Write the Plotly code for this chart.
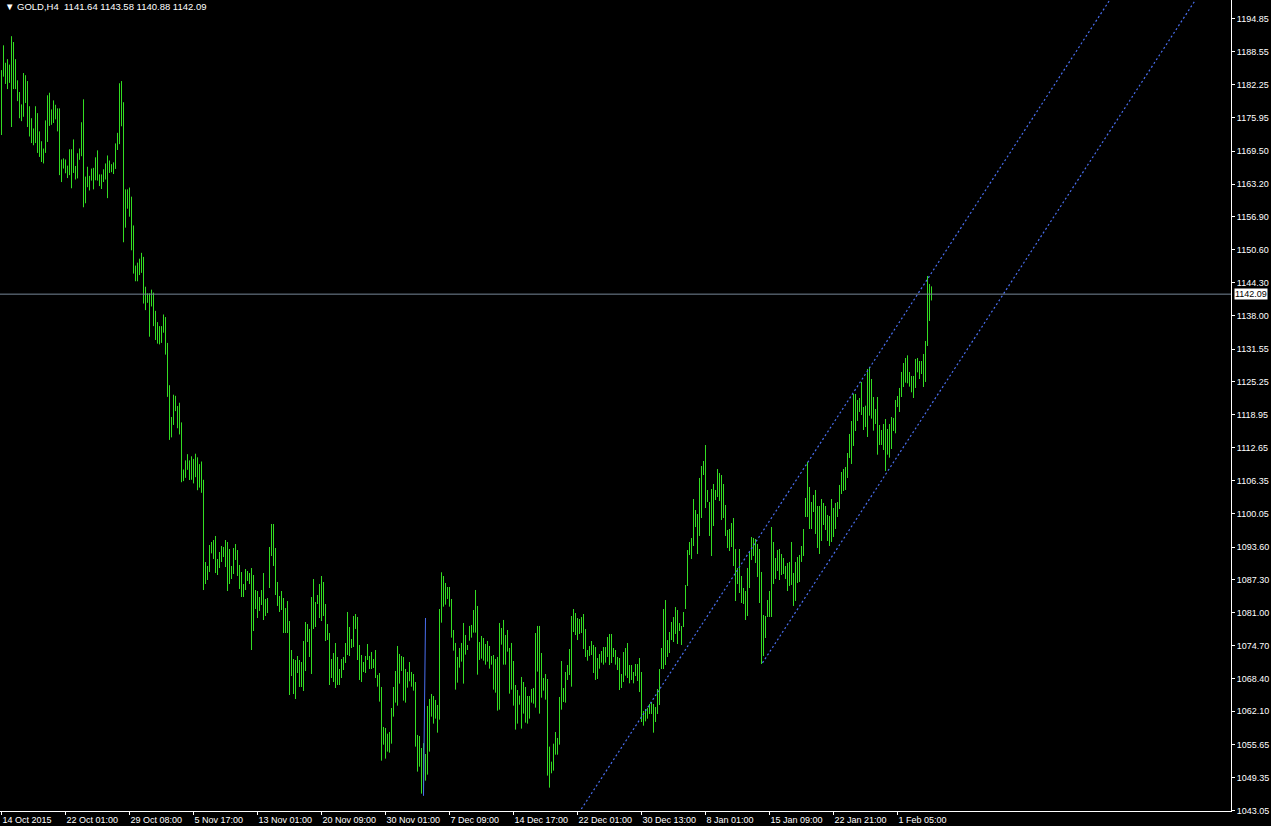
import plotly.graph_objects as go

# ---------------- data (GOLD, H4 bars: high / low per bar) ----------------
HIGH = [
    1185.05, 1189.80, 1186.45, 1187.15, 1186.10, 1191.55, 1190.43, 1187.15, 1183.09, 1180.85,
    1178.47, 1184.49, 1184.07, 1182.95, 1178.12, 1175.82, 1173.86, 1178.12, 1176.80, 1173.30,
    1171.41, 1170.01, 1175.40, 1180.22, 1180.71, 1177.50, 1179.24, 1178.40, 1177.71, 1177.71,
    1167.91, 1168.12, 1167.91, 1166.73, 1169.87, 1169.87, 1171.76, 1166.66, 1169.10, 1170.01,
    1175.05, 1179.45, 1164.63, 1166.52, 1164.77, 1166.17, 1166.31, 1168.33, 1169.66, 1165.05,
    1165.05, 1166.03, 1167.15, 1168.68, 1167.71, 1167.01, 1167.36, 1170.99, 1173.02, 1182.53,
    1182.95, 1178.89, 1162.18, 1162.18, 1162.53, 1160.78, 1155.26, 1147.57, 1148.13, 1148.89,
    1150.01, 1149.24, 1143.51, 1142.25, 1142.25, 1142.95, 1142.39, 1138.89, 1136.73, 1135.96,
    1135.96, 1138.19, 1137.70, 1132.74, 1124.63, 1118.54, 1122.81, 1122.60, 1120.64, 1121.27,
    1117.50, 1108.47, 1110.22, 1111.41, 1110.22, 1111.00, 1110.50, 1111.50, 1110.80, 1109.50,
    1110.00, 1106.50, 1090.73, 1089.97, 1093.99, 1094.57, 1094.95, 1095.72, 1091.31, 1092.65,
    1093.80, 1093.61, 1094.95, 1094.57, 1093.22, 1089.97, 1093.42, 1094.18, 1093.03, 1090.16,
    1088.81, 1086.51, 1089.39, 1089.01, 1088.62, 1089.58, 1088.24, 1085.36, 1085.17, 1084.02,
    1085.36, 1088.62, 1083.64, 1083.83, 1093.61, 1098.02, 1098.02, 1093.42, 1086.90, 1084.21,
    1085.17, 1083.83, 1081.91, 1083.25, 1079.42, 1073.86, 1072.13, 1071.94, 1072.71, 1071.94,
    1071.56, 1075.58, 1079.23, 1078.84, 1077.89, 1084.02, 1087.47, 1083.06, 1084.40, 1086.51,
    1088.05, 1086.90, 1082.68, 1078.84, 1077.12, 1072.13, 1073.28, 1075.20, 1072.52, 1070.22,
    1072.13, 1072.52, 1075.20, 1081.15, 1078.27, 1075.97, 1080.38, 1080.76, 1080.19, 1074.82,
    1072.90, 1071.56, 1072.71, 1075.01, 1072.71, 1073.48, 1072.13, 1073.86, 1069.07, 1069.45,
    1066.77, 1059.10, 1058.91, 1057.82, 1058.14, 1062.74, 1066.77, 1069.84, 1074.63, 1073.10,
    1072.71, 1072.52, 1070.22, 1069.65, 1071.56, 1069.65, 1069.26, 1067.73, 1057.57, 1057.37,
    1055.07, 1056.00, 1053.92, 1063.13, 1064.47, 1065.43, 1065.04, 1064.28, 1063.32, 1081.72,
    1088.76, 1088.05, 1086.71, 1085.94, 1085.94, 1083.64, 1077.70, 1075.21, 1072.52, 1074.25,
    1075.21, 1079.04, 1076.74, 1074.82, 1078.47, 1078.66, 1081.53, 1085.37, 1082.30, 1075.40,
    1076.55, 1076.16, 1075.01, 1075.59, 1074.63, 1072.71, 1072.90, 1072.14, 1072.52, 1079.04,
    1078.08, 1079.62, 1076.74, 1077.70, 1074.25, 1075.21, 1071.75, 1067.15, 1066.19, 1065.11,
    1068.69, 1067.73, 1066.77, 1065.04, 1065.04, 1066.39, 1066.58, 1077.12, 1078.47, 1078.47,
    1073.29, 1068.49, 1069.26, 1068.30, 1055.33, 1052.45, 1055.90, 1058.14, 1056.99, 1064.85,
    1071.75, 1066.57, 1069.64, 1070.98, 1074.05, 1080.38, 1081.72, 1080.95, 1079.99, 1079.80,
    1080.18, 1080.76, 1077.88, 1073.86, 1074.62, 1075.58, 1074.82, 1074.43, 1072.32, 1073.09,
    1073.67, 1074.43, 1074.43, 1076.35, 1076.93, 1076.93, 1074.24, 1073.86, 1072.52, 1072.32,
    1069.26, 1073.47, 1074.24, 1075.20, 1070.98, 1070.98, 1069.64, 1071.17, 1071.17, 1072.32,
    1069.64, 1062.16, 1062.54, 1062.74, 1063.50, 1063.89, 1063.50, 1062.93, 1066.38, 1070.21,
    1074.24, 1081.72, 1083.44, 1075.77, 1077.31, 1079.23, 1080.18, 1082.10, 1081.53, 1079.03,
    1078.46, 1081.14, 1086.32, 1093.03, 1094.57, 1095.33, 1102.81, 1100.70, 1099.93, 1106.84,
    1109.14, 1110.10, 1113.16, 1104.54, 1102.23, 1104.73, 1105.69, 1104.54, 1108.56, 1107.80,
    1107.41, 1105.69, 1101.66, 1096.87, 1097.06, 1098.21, 1099.17, 1093.22, 1089.58, 1093.22,
    1088.05, 1085.75, 1085.17, 1089.58, 1092.65, 1095.53, 1095.34, 1095.14, 1094.19, 1093.23,
    1088.82, 1080.57, 1080.38, 1083.45, 1085.17, 1097.45, 1094.57, 1091.50, 1093.04, 1093.23,
    1092.27, 1091.50, 1089.97, 1090.54, 1090.74, 1094.57, 1088.63, 1090.74, 1091.69, 1092.08,
    1093.80, 1097.06, 1103.01, 1109.91, 1105.12, 1102.24, 1103.58, 1104.54, 1101.47, 1101.47,
    1102.81, 1102.05, 1101.47, 1099.75, 1099.55, 1102.81, 1101.09, 1102.05, 1102.24, 1105.50,
    1107.99, 1108.57, 1108.95, 1111.63, 1115.28, 1117.77, 1122.95, 1122.95, 1121.80, 1122.18,
    1125.25, 1120.45, 1120.71, 1127.74, 1128.12, 1125.82, 1122.37, 1120.07, 1122.37, 1117.00,
    1116.04, 1117.19, 1118.15, 1116.24, 1117.19, 1118.54, 1118.35, 1121.80, 1122.56, 1124.10,
    1127.17, 1128.89, 1129.85, 1130.36, 1127.17, 1126.40, 1126.40, 1129.66, 1129.85, 1129.27,
    1129.27, 1130.62, 1133.11, 1145.57, 1144.04, 1143.58,
]

LOW = [
    1172.60, 1183.79, 1182.39, 1181.41, 1182.60, 1174.14, 1181.41, 1181.41, 1179.10, 1175.82,
    1175.26, 1176.10, 1178.75, 1174.14, 1172.32, 1171.06, 1170.64, 1171.06, 1169.17, 1168.40,
    1167.43, 1167.15, 1169.17, 1171.27, 1174.35, 1174.56, 1174.91, 1175.61, 1173.30, 1164.91,
    1163.58, 1166.17, 1165.26, 1164.35, 1164.91, 1162.39, 1165.33, 1164.07, 1164.28, 1167.85,
    1168.54, 1158.75, 1159.52, 1162.60, 1161.97, 1163.86, 1162.18, 1163.93, 1163.86, 1162.81,
    1162.25, 1163.58, 1164.07, 1160.50, 1165.33, 1165.47, 1165.12, 1166.10, 1169.73, 1170.85,
    1174.28, 1152.04, 1154.84, 1158.47, 1156.94, 1150.50, 1146.03, 1144.56, 1144.56, 1145.75,
    1146.17, 1140.29, 1139.03, 1140.43, 1133.93, 1139.73, 1135.96, 1133.30, 1132.60, 1132.46,
    1132.74, 1134.70, 1130.50, 1122.39, 1114.14, 1114.63, 1117.01, 1119.66, 1116.38, 1115.19,
    1106.03, 1106.24, 1106.87, 1108.40, 1106.45, 1106.50, 1105.80, 1107.00, 1104.50, 1105.00,
    1104.00, 1085.36, 1086.51, 1087.28, 1088.81, 1092.39, 1091.31, 1088.62, 1088.24, 1089.58,
    1090.73, 1091.69, 1089.77, 1085.17, 1086.51, 1087.47, 1088.43, 1091.12, 1088.05, 1085.56,
    1084.02, 1084.02, 1085.36, 1087.09, 1086.51, 1073.86, 1077.50, 1081.72, 1079.99, 1081.34,
    1082.49, 1079.61, 1080.38, 1080.95, 1085.75, 1091.88, 1089.97, 1084.40, 1082.30, 1081.15,
    1081.53, 1077.12, 1077.12, 1077.12, 1065.23, 1068.87, 1065.42, 1064.46, 1069.45, 1066.77,
    1066.77, 1066.00, 1069.83, 1075.39, 1072.52, 1069.26, 1077.89, 1078.27, 1082.68, 1079.99,
    1079.42, 1080.38, 1075.58, 1075.78, 1067.15, 1068.49, 1067.72, 1066.57, 1067.15, 1067.15,
    1068.49, 1070.02, 1071.37, 1072.90, 1072.71, 1074.24, 1074.43, 1077.89, 1071.94, 1068.11,
    1067.72, 1069.64, 1069.45, 1071.94, 1070.22, 1070.22, 1070.41, 1068.49, 1066.83, 1063.96,
    1052.64, 1055.71, 1053.03, 1054.37, 1054.18, 1055.90, 1061.08, 1063.77, 1063.19, 1067.41,
    1069.84, 1064.15, 1063.77, 1066.64, 1067.86, 1066.83, 1066.07, 1055.33, 1050.54, 1051.49,
    1046.32, 1046.50, 1048.81, 1049.96, 1054.37, 1061.08, 1059.74, 1060.70, 1058.01, 1060.51,
    1079.10, 1082.17, 1082.56, 1083.64, 1082.17, 1076.23, 1073.74, 1066.26, 1067.60, 1070.48,
    1071.63, 1067.41, 1072.97, 1073.86, 1075.65, 1076.23, 1077.19, 1077.19, 1069.13, 1071.95,
    1072.20, 1071.82, 1071.05, 1071.63, 1070.28, 1071.05, 1066.26, 1065.68, 1062.23, 1062.42,
    1074.89, 1071.05, 1071.05, 1073.54, 1065.49, 1066.26, 1063.19, 1058.59, 1059.74, 1063.38,
    1058.78, 1061.66, 1059.93, 1059.74, 1060.70, 1063.77, 1063.57, 1062.81, 1069.71, 1061.66,
    1064.72, 1066.07, 1064.34, 1049.77, 1047.47, 1050.22, 1050.73, 1053.79, 1053.79, 1055.71,
    1062.42, 1063.89, 1063.76, 1068.11, 1069.06, 1066.83, 1077.31, 1076.73, 1075.77, 1076.93,
    1077.12, 1074.05, 1072.52, 1071.81, 1072.71, 1072.90, 1069.45, 1068.11, 1068.30, 1070.28,
    1071.43, 1071.05, 1071.43, 1072.52, 1070.98, 1071.37, 1072.52, 1071.05, 1070.02, 1066.19,
    1066.57, 1067.72, 1068.94, 1068.49, 1067.47, 1068.11, 1067.47, 1068.87, 1067.91, 1065.80,
    1060.05, 1059.35, 1060.18, 1060.69, 1061.59, 1061.59, 1058.01, 1060.05, 1061.59, 1063.31,
    1070.21, 1070.21, 1070.98, 1072.52, 1073.28, 1075.77, 1075.39, 1076.93, 1075.01, 1077.50,
    1074.82, 1078.27, 1081.72, 1086.13, 1092.07, 1091.31, 1093.80, 1097.44, 1092.26, 1095.72,
    1099.17, 1107.41, 1101.08, 1102.23, 1095.72, 1091.88, 1097.63, 1102.62, 1103.19, 1102.43,
    1098.78, 1099.17, 1095.72, 1093.41, 1092.84, 1093.61, 1089.96, 1083.25, 1086.51, 1084.79,
    1082.87, 1082.68, 1079.61, 1080.38, 1085.75, 1091.12, 1091.89, 1090.54, 1087.86, 1082.87,
    1071.18, 1072.71, 1076.16, 1080.19, 1080.19, 1080.19, 1086.52, 1087.48, 1089.01, 1087.28,
    1088.24, 1088.43, 1087.48, 1085.17, 1086.13, 1086.33, 1082.30, 1083.26, 1086.71, 1086.90,
    1090.74, 1091.89, 1099.36, 1099.36, 1097.06, 1097.06, 1100.32, 1096.10, 1093.42, 1092.27,
    1094.76, 1097.83, 1096.87, 1094.76, 1093.80, 1094.57, 1095.53, 1097.06, 1099.36, 1100.90,
    1103.77, 1104.35, 1104.54, 1106.84, 1110.68, 1109.53, 1112.98, 1115.85, 1117.77, 1119.50,
    1118.92, 1116.04, 1116.62, 1114.70, 1118.79, 1118.22, 1115.92, 1117.19, 1111.31, 1113.17,
    1113.17, 1112.21, 1108.18, 1111.31, 1110.74, 1112.40, 1115.85, 1115.41, 1120.45, 1119.50,
    1122.37, 1124.29, 1125.12, 1124.99, 1124.35, 1123.27, 1122.18, 1124.10, 1127.10, 1125.82,
    1126.78, 1124.29, 1125.25, 1132.15, 1136.94, 1140.88,
]

DATE_TICK_BARS = [0, 32, 64, 96, 128, 160, 192, 224, 256, 288, 320, 352, 384, 416, 448]
DATE_TICK_LABELS = ["14 Oct 2015", "22 Oct 01:00", "29 Oct 08:00", "5 Nov 17:00",
                    "13 Nov 01:00", "20 Nov 09:00", "30 Nov 01:00", "7 Dec 09:00",
                    "14 Dec 17:00", "22 Dec 01:00", "30 Dec 13:00", "8 Jan 01:00",
                    "15 Jan 09:00", "22 Jan 21:00", "1 Feb 05:00"]

PRICE_TICKS = [1194.85, 1188.55, 1182.25, 1175.95, 1169.50, 1163.20, 1156.90, 1150.60,
               1144.30, 1138.00, 1131.55, 1125.25, 1118.95, 1112.65, 1106.35, 1100.05,
               1093.60, 1087.30, 1081.00, 1074.70, 1068.40, 1062.10, 1055.65, 1049.35,
               1043.05]

LAST_OHLC = [1141.64, 1143.58, 1140.88, 1142.09]
SYMBOL = "GOLD,H4"

# drawn objects (bar index, price)
UPPER_LINE_X = [285, 560]
UPPER_LINE_Y = [1040.48, 1201.93]
LOWER_LINE_X = [380.5, 600]
LOWER_LINE_Y = [1071.40, 1200.27]
STEEP_LINE_X = [212, 211]
STEEP_LINE_Y = [1080.00, 1045.90]

# ---------------- styling ----------------
BAR_COLOR = "#33DD22"
LINE_BLUE = "#4A6FF0"
BID_COLOR = "#778899"
FONT = "Liberation Sans, Arial, sans-serif"

bx, by = [], []
for i, (h, l) in enumerate(zip(HIGH, LOW)):
    bx += [i, i, None]
    by += [l, h, None]

fig = go.Figure()
fig.add_trace(go.Scatter(x=bx, y=by, mode="lines",
                         line=dict(color=BAR_COLOR, width=1),
                         hoverinfo="skip", showlegend=False))
fig.add_trace(go.Scatter(x=UPPER_LINE_X, y=UPPER_LINE_Y, mode="lines",
                         line=dict(color=LINE_BLUE, width=1.2, dash="2px,2.5px"),
                         hoverinfo="skip", showlegend=False))
fig.add_trace(go.Scatter(x=LOWER_LINE_X, y=LOWER_LINE_Y, mode="lines",
                         line=dict(color=LINE_BLUE, width=1.2, dash="2px,2.5px"),
                         hoverinfo="skip", showlegend=False))
fig.add_trace(go.Scatter(x=STEEP_LINE_X, y=STEEP_LINE_Y, mode="lines",
                         line=dict(color=LINE_BLUE, width=1),
                         hoverinfo="skip", showlegend=False))

close = LAST_OHLC[3]
fig.add_shape(type="line", xref="paper", x0=0, x1=1, yref="y", y0=close, y1=close,
              line=dict(color=BID_COLOR, width=1))

fig.add_annotation(xref="paper", yref="y", x=1, y=close, xanchor="left", yanchor="middle",
                   xshift=3, text=f"{close:.2f}", showarrow=False,
                   bgcolor="white", borderpad=0,
                   font=dict(family=FONT, size=9, color="black"))

title = "\u25BC " + SYMBOL + "\u00a0\u00a0" + " ".join(f"{v:.2f}" for v in LAST_OHLC)
fig.add_annotation(xref="paper", yref="paper", x=0, y=1, xanchor="left", yanchor="top",
                   xshift=3, yshift=1, text=title, showarrow=False,
                   font=dict(family=FONT, size=9.5, color="white"))

fig.update_layout(
    width=1271, height=826,
    margin=dict(l=0, r=40, t=0, b=15),
    paper_bgcolor="black", plot_bgcolor="black",
    showlegend=False,
    xaxis=dict(range=[-0.75, 614.75], tickvals=DATE_TICK_BARS, ticktext=DATE_TICK_LABELS,
               ticks="outside", ticklen=3, tickcolor="white", tickwidth=1,
               ticklabelposition="outside right",
               showline=True, linecolor="white", linewidth=1,
               showgrid=False, zeroline=False,
               tickfont=dict(family=FONT, size=9, color="white")),
    yaxis=dict(range=[1042.99, 1198.49], side="right",
               tickvals=PRICE_TICKS, ticktext=[f"{v:.2f}" for v in PRICE_TICKS],
               ticks="outside", ticklen=3, tickcolor="white", tickwidth=1,
               showline=True, linecolor="white", linewidth=1,
               showgrid=False, zeroline=False,
               tickfont=dict(family=FONT, size=9, color="white")),
)

fig.write_html(
    "out.html",
    config={"displayModeBar": False},
    post_script="document.body.style.margin='0';document.body.style.padding='0';"
                "document.body.style.background='black';document.body.style.overflow='hidden';",
)
